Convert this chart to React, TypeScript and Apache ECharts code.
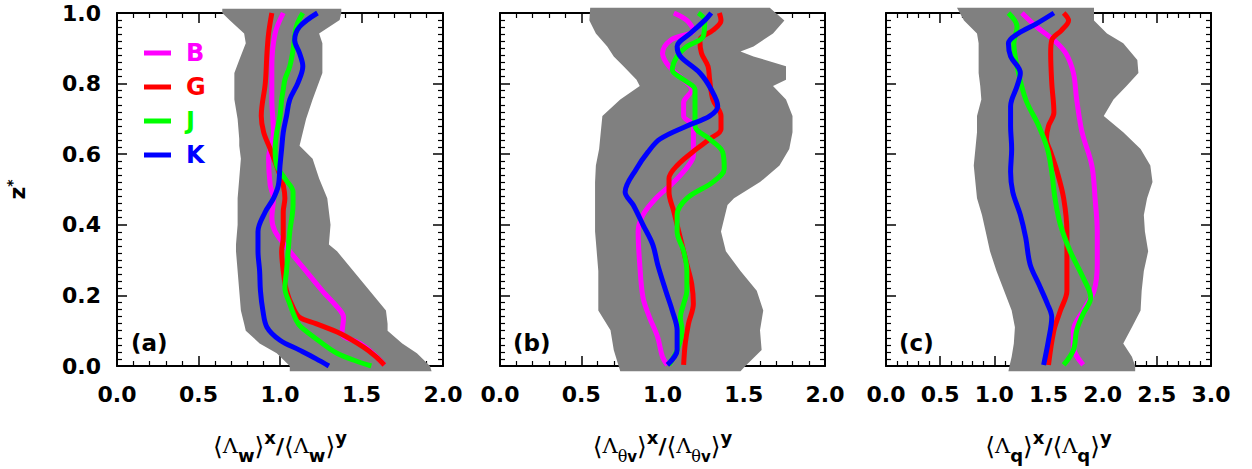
import React, { useEffect, useRef } from "react";
import * as echarts from "echarts";

// ---------- data ----------
const seriesNames = ["B", "G", "J", "K"];
const seriesColors = ["#ff00ff", "#ff0000", "#00ff00", "#0000ff"];
const panelLabels = ["(a)", "(b)", "(c)"];
const yTicks = [0, 0.2, 0.4, 0.6, 0.8, 1.0];
const xTicksAB = [0, 0.5, 1.0, 1.5, 2.0];
const xTicksC = [0, 0.5, 1.0, 1.5, 2.0, 2.5, 3.0];

// spread bands: [z, low, high]
const bandA: number[][] = [
  [1.012, 0.646, 1.376], [1.0, 0.646, 1.376], [0.98, 0.69, 1.366], [0.942, 0.78, 1.24],
  [0.914, 0.79, 1.26], [0.867, 0.75, 1.26], [0.83, 0.72, 1.26], [0.755, 0.72, 1.2],
  [0.7, 0.74, 1.16], [0.643, 0.75, 1.13], [0.624, 0.75, 1.12], [0.587, 0.76, 1.2],
  [0.531, 0.75, 1.24], [0.475, 0.74, 1.29], [0.4, 0.74, 1.31], [0.344, 0.73, 1.3],
  [0.325, 0.73, 1.35], [0.269, 0.74, 1.45], [0.213, 0.75, 1.55], [0.157, 0.76, 1.65],
  [0.12, 0.78, 1.66], [0.1, 0.79, 1.66], [0.064, 0.875, 1.75], [0.036, 0.98, 1.84],
  [0.0, 1.06, 1.92], [-0.015, 1.06, 1.93],
];
const bandB: number[][] = [
  [1.015, 0.555, 1.66], [0.979, 0.55, 1.75], [0.942, 0.59, 1.68], [0.905, 0.66, 1.56],
  [0.891, 0.68, 1.48], [0.877, 0.7, 1.56], [0.849, 0.76, 1.76], [0.811, 0.84, 1.76],
  [0.793, 0.86, 1.68], [0.755, 0.74, 1.76], [0.708, 0.63, 1.8], [0.662, 0.62, 1.8],
  [0.615, 0.61, 1.78], [0.568, 0.59, 1.72], [0.521, 0.585, 1.6], [0.475, 0.585, 1.44],
  [0.456, 0.585, 1.4], [0.381, 0.585, 1.36], [0.325, 0.595, 1.39], [0.269, 0.605, 1.48],
  [0.213, 0.605, 1.58], [0.157, 0.605, 1.62], [0.101, 0.68, 1.6], [0.045, 0.7, 1.61],
  [0.0, 0.73, 1.51], [-0.015, 0.74, 1.48],
];
const bandC: number[][] = [
  [1.015, 0.655, 1.92], [0.979, 0.72, 1.92], [0.942, 0.84, 2.04], [0.914, 0.855, 2.19],
  [0.867, 0.855, 2.32], [0.83, 0.855, 2.33], [0.793, 0.87, 2.22], [0.755, 0.88, 2.1],
  [0.708, 0.84, 2.01], [0.662, 0.84, 2.19], [0.615, 0.825, 2.35], [0.568, 0.81, 2.44],
  [0.521, 0.825, 2.46], [0.475, 0.84, 2.41], [0.428, 0.886, 2.38], [0.381, 0.92, 2.39],
  [0.325, 0.96, 2.42], [0.269, 1.02, 2.38], [0.213, 1.09, 2.36], [0.157, 1.16, 2.35],
  [0.11, 1.19, 2.27], [0.064, 1.18, 2.19], [0.026, 1.16, 2.27], [0.0, 1.14, 2.3],
  [-0.015, 1.13, 2.3],
];

// profiles: [ratio, z]
const aB = [[1.02,1.0],[0.97,0.942],[0.95,0.849],[0.95,0.755],[0.96,0.662],[0.93,0.587],[0.94,0.512],[0.96,0.475],[0.95,0.419],[0.97,0.381],[1.06,0.325],[1.16,0.269],[1.26,0.213],[1.37,0.157],[1.39,0.138],[1.38,0.092],[1.49,0.064],[1.57,0.036],[1.64,0.003]];
const aG = [[0.95,1.0],[0.93,0.942],[0.92,0.886],[0.91,0.802],[0.885,0.708],[0.9,0.662],[0.94,0.615],[0.97,0.578],[1.0,0.54],[1.02,0.512],[1.03,0.475],[1.02,0.437],[1.02,0.4],[1.02,0.363],[1.01,0.325],[1.02,0.269],[1.04,0.213],[1.08,0.166],[1.12,0.138],[1.22,0.12],[1.37,0.092],[1.51,0.054],[1.59,0.026],[1.64,0.003]];
const aJ = [[1.14,1.0],[1.1,0.961],[1.08,0.895],[1.06,0.849],[1.03,0.811],[1.02,0.783],[1.01,0.755],[1.0,0.708],[0.98,0.662],[0.97,0.615],[0.98,0.568],[1.03,0.531],[1.08,0.493],[1.08,0.456],[1.06,0.381],[1.05,0.325],[1.04,0.269],[1.03,0.222],[1.06,0.176],[1.1,0.129],[1.13,0.11],[1.26,0.064],[1.35,0.036],[1.45,0.017],[1.56,0.0]];
const aK = [[1.23,1.0],[1.12,0.961],[1.09,0.923],[1.12,0.886],[1.14,0.849],[1.11,0.802],[1.06,0.755],[1.04,0.708],[1.02,0.662],[1.01,0.615],[1.0,0.568],[0.99,0.512],[0.96,0.475],[0.91,0.437],[0.865,0.381],[0.865,0.325],[0.875,0.269],[0.88,0.213],[0.895,0.157],[0.92,0.11],[1.0,0.073],[1.12,0.045],[1.22,0.021],[1.3,0.0]];

const bB = [[1.07,1.0],[1.15,0.979],[1.19,0.951],[1.05,0.923],[1.0,0.886],[1.04,0.849],[1.13,0.811],[1.18,0.783],[1.13,0.746],[1.13,0.708],[1.19,0.68],[1.19,0.643],[1.19,0.596],[1.16,0.568],[1.07,0.521],[0.96,0.475],[0.88,0.428],[0.85,0.381],[0.86,0.288],[0.88,0.194],[0.92,0.138],[0.97,0.082],[1.0,0.026],[1.03,0.003]];
const bG = [[1.35,1.0],[1.36,0.979],[1.31,0.951],[1.23,0.923],[1.24,0.886],[1.28,0.849],[1.29,0.811],[1.31,0.755],[1.36,0.708],[1.36,0.671],[1.29,0.643],[1.21,0.615],[1.09,0.568],[1.04,0.531],[1.04,0.493],[1.07,0.437],[1.1,0.381],[1.15,0.288],[1.18,0.232],[1.19,0.176],[1.16,0.12],[1.14,0.064],[1.13,0.003]];
const bJ = [[1.22,1.0],[1.26,0.979],[1.25,0.933],[1.15,0.905],[1.09,0.877],[1.06,0.839],[1.13,0.811],[1.2,0.783],[1.2,0.736],[1.2,0.68],[1.29,0.643],[1.37,0.606],[1.38,0.559],[1.31,0.521],[1.15,0.475],[1.09,0.428],[1.09,0.381],[1.13,0.325],[1.15,0.269],[1.15,0.213],[1.13,0.176],[1.11,0.138],[1.12,0.101],[1.09,0.045],[1.04,0.003]];
const bK = [[1.3,1.0],[1.26,0.979],[1.17,0.942],[1.09,0.905],[1.11,0.877],[1.23,0.83],[1.3,0.783],[1.34,0.736],[1.29,0.708],[1.15,0.68],[0.985,0.643],[0.91,0.606],[0.84,0.559],[0.77,0.493],[0.82,0.456],[0.88,0.4],[0.94,0.344],[0.97,0.288],[1.02,0.213],[1.06,0.157],[1.09,0.101],[1.09,0.045],[1.03,0.003]];

const cB = [[1.255,1.0],[1.39,0.961],[1.55,0.923],[1.66,0.886],[1.73,0.83],[1.76,0.755],[1.81,0.662],[1.9,0.568],[1.93,0.475],[1.95,0.381],[1.95,0.288],[1.92,0.213],[1.82,0.157],[1.73,0.101],[1.73,0.054],[1.82,0.003]];
const cG = [[1.64,1.0],[1.685,0.979],[1.62,0.951],[1.53,0.923],[1.52,0.886],[1.53,0.802],[1.55,0.718],[1.5,0.68],[1.48,0.643],[1.52,0.606],[1.58,0.55],[1.64,0.475],[1.67,0.381],[1.67,0.288],[1.67,0.213],[1.61,0.157],[1.55,0.101],[1.5,0.003]];
const cJ = [[1.13,1.0],[1.21,0.961],[1.18,0.914],[1.21,0.849],[1.29,0.755],[1.41,0.68],[1.49,0.615],[1.53,0.55],[1.56,0.475],[1.61,0.4],[1.7,0.325],[1.82,0.25],[1.89,0.194],[1.82,0.148],[1.76,0.101],[1.73,0.045],[1.64,0.003]];
const cK = [[1.55,1.0],[1.39,0.97],[1.22,0.942],[1.13,0.914],[1.15,0.877],[1.24,0.83],[1.21,0.793],[1.15,0.736],[1.15,0.68],[1.16,0.615],[1.15,0.55],[1.17,0.493],[1.24,0.428],[1.29,0.363],[1.33,0.288],[1.41,0.232],[1.49,0.176],[1.53,0.138],[1.5,0.073],[1.455,0.003]];

const panelBands = [bandA, bandB, bandC];
const panelProfiles = [[aB, aG, aJ, aK], [bB, bG, bJ, bK], [cB, cG, cJ, cK]];
const panelXTicks = [xTicksAB, xTicksAB, xTicksC];

// ---------- styling ----------
const FONT = "DejaVu Sans";
const grids = [
  { left: 117, top: 13, width: 326, height: 356 },
  { left: 500, top: 13, width: 325, height: 356 },
  { left: 886, top: 13, width: 325, height: 356 },
];

const nameRich = {
  br: { fontFamily: "DejaVu Sans", fontWeight: "normal", fontSize: 25, lineHeight: 36, verticalAlign: "middle", color: "#000" },
  L: { fontFamily: "DejaVu Serif", fontWeight: "normal", fontSize: 21, lineHeight: 36, verticalAlign: "middle", color: "#000" },
  sub: { fontFamily: FONT, fontWeight: "bold", fontSize: 18, lineHeight: 20, verticalAlign: "bottom", color: "#000" },
  subsub: { fontFamily: FONT, fontWeight: "bold", fontSize: 15, lineHeight: 12, verticalAlign: "bottom", color: "#000" },
  subth: { fontFamily: "DejaVu Serif", fontWeight: "normal", fontSize: 16, lineHeight: 24, verticalAlign: "bottom", color: "#000" },
  sup: { fontFamily: FONT, fontWeight: "bold", fontSize: 18, lineHeight: 12, verticalAlign: "top", color: "#000" },
  sl: { fontFamily: FONT, fontWeight: "bold", fontSize: 22, lineHeight: 36, verticalAlign: "middle", color: "#000" },
};
const xNames = [
  "{br|⟨}{L|Λ}{sub|w}{br|⟩}{sup|x}{sl|/}{br|⟨}{L|Λ}{sub|w}{br|⟩}{sup|y}",
  "{br|⟨}{L|Λ}{subth|θ}{subsub|v}{br|⟩}{sup|x}{sl|/}{br|⟨}{L|Λ}{subth|θ}{subsub|v}{br|⟩}{sup|y}",
  "{br|⟨}{L|Λ}{sub|q}{br|⟩}{sup|x}{sl|/}{br|⟨}{L|Λ}{sub|q}{br|⟩}{sup|y}",
];

const axisLine = { show: true, onZero: false, lineStyle: { color: "#000", width: 2 } };
const labelStyle = { fontFamily: FONT, fontWeight: "bold", fontSize: 22, color: "#000" };

function buildOption() {
  const xAxis: any[] = [];
  const yAxis: any[] = [];
  const series: any[] = [];
  grids.forEach((g, i) => {
    const ticks = panelXTicks[i];
    const xBase = {
      type: "value", gridIndex: i, min: ticks[0], max: ticks[ticks.length - 1],
      interval: ticks[1] - ticks[0], axisLine, splitLine: { show: false },
      axisTick: { show: true, inside: true, length: 10, lineStyle: { color: "#000", width: 1.5 } },
      minorTick: { show: true, splitNumber: 5, length: 5, lineStyle: { color: "#000", width: 1.2 } },
    };
    xAxis.push({
      ...xBase, position: "bottom",
      axisLabel: { show: true, margin: 17, formatter: (v: number) => v.toFixed(1), ...labelStyle },
      name: xNames[i], nameLocation: "middle", nameGap: 62,
      nameTextStyle: { ...labelStyle, rich: nameRich },
    });
    xAxis.push({ ...xBase, position: "top", axisLabel: { show: false } });
    const yBase = {
      type: "value", gridIndex: i, min: yTicks[0], max: yTicks[yTicks.length - 1],
      interval: yTicks[1] - yTicks[0], axisLine, splitLine: { show: false },
      axisTick: { show: true, inside: true, length: 10, lineStyle: { color: "#000", width: 1.5 } },
      minorTick: { show: true, splitNumber: 10, length: 5, lineStyle: { color: "#000", width: 1.2 } },
    };
    yAxis.push({
      ...yBase, position: "left",
      axisLabel: { show: i === 0, margin: 16, formatter: (v: number) => v.toFixed(1), ...labelStyle },
      ...(i === 0
        ? {
            name: "{z|z}{s|*}", nameLocation: "middle", nameGap: 88, nameRotate: 90,
            nameTextStyle: {
              ...labelStyle,
              rich: {
                z: { fontFamily: FONT, fontWeight: "bold", fontSize: 22, lineHeight: 24, verticalAlign: "middle", color: "#000" },
                s: { fontFamily: FONT, fontWeight: "bold", fontSize: 14, lineHeight: 14, verticalAlign: "top", color: "#000" },
              },
            },
          }
        : {}),
    });
    yAxis.push({ ...yBase, position: "right", axisLabel: { show: false } });

    const band = panelBands[i];
    series.push({
      type: "custom", xAxisIndex: i * 2, yAxisIndex: i * 2, silent: true, clip: false, z: 1,
      data: band.map((r) => [r[1], r[2], r[0]]),
      encode: { x: [0, 1], y: 2 },
      renderItem: (params: any, api: any) => {
        if (params.dataIndex !== 0) return null;
        const pts: number[][] = [];
        for (let k = 0; k < band.length; k++) pts.push(api.coord([band[k][1], band[k][0]]));
        for (let k = band.length - 1; k >= 0; k--) pts.push(api.coord([band[k][2], band[k][0]]));
        return { type: "polygon", shape: { points: pts }, style: { fill: "#808080", stroke: "none" } };
      },
    });
    panelProfiles[i].forEach((prof, j) => {
      series.push({
        type: "line", name: seriesNames[j], xAxisIndex: i * 2, yAxisIndex: i * 2,
        data: prof, smooth: 0.35, showSymbol: false, symbol: "none", z: 3 + j,
        color: seriesColors[j],
        lineStyle: { color: seriesColors[j], width: 5 },
      });
    });
  });

  return {
    animation: false,
    backgroundColor: "#ffffff",
    grid: grids.map((g) => ({ ...g, containLabel: false })),
    xAxis, yAxis, series,
    legend: {
      show: true, orient: "vertical", left: 139, top: 36, itemWidth: 27, itemHeight: 5,
      itemGap: 10, icon: "rect", selectedMode: false,
      data: seriesNames.map((n, j) => ({ name: n, textStyle: { color: seriesColors[j] } })),
      textStyle: { fontFamily: FONT, fontWeight: "bold", fontSize: 24, lineHeight: 24, padding: [0, 0, 0, 10] },
    },
    graphic: panelLabels.map((t, i) => ({
      type: "text", left: [131, 513, 899][i], top: 331, silent: true,
      style: { text: t, fontFamily: FONT, fontWeight: "bold", fontSize: 23, fill: "#000" },
    })),
  };
}

export default function App() {
  const ref = useRef<HTMLDivElement>(null);
  useEffect(() => {
    document.body.style.margin = "0";
    if (!ref.current) return;
    const chart = echarts.init(ref.current, null, { renderer: "svg" });
    chart.setOption(buildOption() as any);
    return () => chart.dispose();
  }, []);
  return <div ref={ref} style={{ width: 1252, height: 469 }} />;
}
